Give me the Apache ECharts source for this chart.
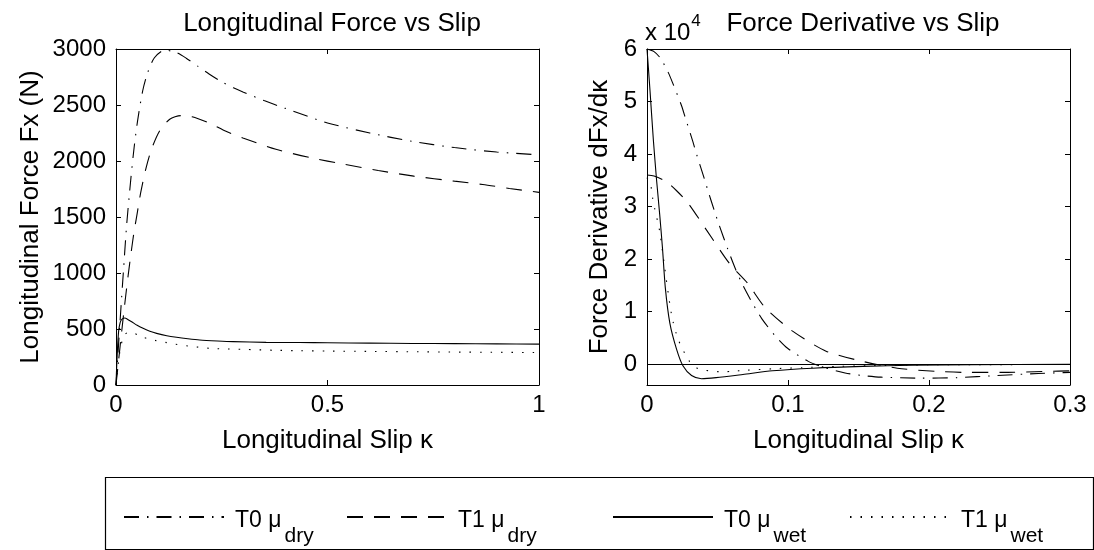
<!DOCTYPE html>
<html>
<head>
<meta charset="utf-8">
<script src="https://cdn.jsdelivr.net/npm/echarts@6.0.0/dist/echarts.min.js"></script>
<style>
  html, body { margin: 0; padding: 0; background: #fff; }
  #chart { width: 1094px; height: 550px; }
</style>
</head>
<body>
<div id="chart"></div>
<script>
// ---- left plot: longitudinal force (N) vs slip
const slipT0dry = [0, 0.005, 0.0097, 0.0134, 0.0181, 0.0252, 0.0351, 0.0429, 0.051, 0.063, 0.075, 0.0908, 0.1144, 0.1405, 0.166, 0.194, 0.22, 0.248, 0.2776, 0.3, 0.35, 0.4, 0.5, 0.6, 0.7, 0.8, 0.9, 1.0]
const forceT0dry = [0, 300, 577, 785, 1047, 1430, 1842, 2123, 2358, 2625, 2791, 2922, 2990, 2972, 2918, 2845, 2777, 2711, 2653, 2616, 2540, 2470, 2340, 2250, 2175, 2120, 2080, 2055]

const slipT1dry = [0, 0.006, 0.013, 0.02, 0.029, 0.036, 0.042, 0.05, 0.0586, 0.071, 0.084, 0.103, 0.127, 0.153, 0.18, 0.222, 0.26, 0.3, 0.378, 0.459, 0.541, 0.62, 0.704, 0.8, 0.867, 0.93, 1.0]
const forceT1dry = [0, 215, 462, 700, 987, 1190, 1351, 1530, 1722, 1937, 2106, 2268, 2373, 2405, 2395, 2336, 2265, 2205, 2105, 2030, 1970, 1915, 1865, 1820, 1790, 1755, 1720]

const slipT0wet = [0, 0.0016, 0.004, 0.0065, 0.01, 0.0134, 0.0175, 0.0212, 0.026, 0.037, 0.05, 0.064, 0.08, 0.096, 0.12, 0.143, 0.17, 0.198, 0.24, 0.277, 0.355, 0.434, 0.5, 0.6, 0.7, 0.8, 0.9, 1.0]
const forceT0wet = [0, 163, 360, 490, 560, 585, 596, 598, 590, 565, 533, 506, 480, 461, 440, 426, 413, 402, 393, 387, 381, 379, 377, 374, 371, 369, 367, 365]

const slipT1wet = [0, 0.003, 0.006, 0.01, 0.015, 0.02, 0.025, 0.031, 0.04, 0.05, 0.064, 0.09, 0.116, 0.14, 0.171, 0.2, 0.222, 0.26, 0.3, 0.378, 0.432, 0.5, 0.6, 0.7, 0.8, 0.9, 1.0]
const forceT1wet = [0, 110, 210, 320, 400, 445, 465, 472, 465, 450, 426, 400, 381, 364, 348, 336, 327, 322, 318, 310, 306, 303, 300, 297, 294, 292, 290]

// ---- right plot: dFx/dk (x 10^4) vs slip
const kT0dry = [0, 0.005, 0.0097, 0.0151, 0.0181, 0.0245, 0.0273, 0.0327, 0.0351, 0.041, 0.0429, 0.048, 0.051, 0.0574, 0.0629, 0.068, 0.075, 0.0815, 0.0908, 0.0997, 0.1144, 0.125, 0.1405, 0.1528, 0.166, 0.194, 0.22, 0.248, 0.2776, 0.3]
const dT0dry = [6.0, 5.95, 5.82, 5.55, 5.36, 4.92, 4.68, 4.22, 4.0, 3.5, 3.33, 2.9, 2.66, 2.18, 1.8, 1.5, 1.15, 0.86, 0.54, 0.3, 0.05, -0.06, -0.17, -0.22, -0.25, -0.27, -0.26, -0.22, -0.18, -0.16]

const kT1dry = [0, 0.005, 0.0134, 0.021, 0.029, 0.042, 0.0586, 0.071, 0.0839, 0.103, 0.127, 0.153, 0.1775, 0.2046, 0.227, 0.2517, 0.2846, 0.3]
const dT1dry = [3.6, 3.58, 3.48, 3.3, 3.07, 2.56, 1.91, 1.55, 1.07, 0.63, 0.245, 0.05, -0.08, -0.14, -0.16, -0.16, -0.14, -0.13]

const kT0wet = [0, 0.0021, 0.0045, 0.0068, 0.009, 0.011, 0.013, 0.0162, 0.021, 0.0256, 0.0316, 0.0386, 0.049, 0.068, 0.089, 0.1175, 0.153, 0.188, 0.23, 0.3]
const dT0wet = [6.0, 5.22, 4.27, 3.5, 2.85, 2.2, 1.45, 0.78, 0.28, -0.04, -0.22, -0.28, -0.26, -0.2, -0.13, -0.08, -0.045, -0.025, -0.012, -0.005]

const kT1wet = [0, 0.0026, 0.004, 0.0056, 0.0075, 0.0092, 0.0104, 0.0174, 0.0221, 0.0299, 0.0362, 0.0445, 0.0527, 0.06, 0.07, 0.09, 0.11, 0.13, 0.16, 0.2, 0.3]
const dT1wet = [3.55, 3.41, 3.16, 2.94, 2.72, 2.5, 2.26, 0.94, 0.47, 0.06, -0.09, -0.13, -0.15, -0.14, -0.12, -0.09, -0.07, -0.05, -0.03, -0.015, -0.01]

const names = ['T0 μ_dry', 'T1 μ_dry', 'T0 μ_wet', 'T1 μ_wet']
const xTicksLeft = [0, 1, 0.5]    // min, max, step
const yTicksLeft = [0, 3000, 500]
const xTicksRight = [0, 0.3, 0.1]
const yRangeRight = [-0.4, 6]

const FONT = 'Liberation Sans, Arial, Helvetica, sans-serif'
const dashes = [[15, 8, 1.5, 8], [16, 11], 'solid', [1.5, 9]]

function zip(xs, ys) {
  return xs.map((x, i) => [x, ys[i]])
}

function axis(grid, pos, range, opts) {
  const main = pos === 'bottom' || pos === 'left'
  const vertical = pos === 'left' || pos === 'right'
  return Object.assign({
    gridIndex: grid,
    type: 'value',
    position: pos,
    min: range[0],
    max: range[1],
    interval: range[2],
    axisLine: { show: true, onZero: false, lineStyle: { color: '#000', width: 1 } },
    axisTick: { show: true, inside: true, length: 5, lineStyle: { color: '#000' } },
    axisLabel: { show: main, color: '#000', fontSize: 24, fontFamily: FONT, margin: vertical ? 10 : 8,
      formatter: v => String(v) },
    splitLine: { show: false },
    nameTextStyle: { color: '#000', fontSize: 26, fontFamily: FONT }
  }, opts || {})
}

function line(name, data, xi, style) {
  return {
    name: name,
    type: 'line',
    xAxisIndex: xi,
    yAxisIndex: xi,
    data: data,
    symbol: 'none',
    smooth: 0.25,
    clip: true,
    lineStyle: { color: '#000', width: 1.1, type: style }
  }
}

const chart = echarts.init(document.getElementById('chart'))

const series = [
  line(names[0], zip(slipT0dry, forceT0dry), 0, dashes[0]),
  line(names[1], zip(slipT1dry, forceT1dry), 0, dashes[1]),
  line(names[2], zip(slipT0wet, forceT0wet), 0, dashes[2]),
  line(names[3], zip(slipT1wet, forceT1wet), 0, dashes[3]),
  line(names[0], zip(kT0dry, dT0dry), 2, dashes[0]),
  line(names[1], zip(kT1dry, dT1dry), 2, dashes[1]),
  line(names[2], zip(kT0wet, dT0wet), 2, dashes[2]),
  line(names[3], zip(kT1wet, dT1wet), 2, dashes[3])
]
// zero reference line on the derivative plot
series[6].markLine = {
  silent: true,
  symbol: ['none', 'none'],
  label: { show: false },
  lineStyle: { color: '#000', type: 'solid', width: 1 },
  data: [{ yAxis: 0 }]
}

const legendLeft = [123, 346, 612, 849]
const legends = names.map((n, i) => ({
  data: [n],
  left: legendLeft[i],
  top: 506,
  padding: 0,
  itemWidth: 100,
  itemHeight: 14,
  itemStyle: { opacity: 0 },
  selectedMode: false,
  formatter: function (s) {
    const p = s.split('_')
    return '{m|' + p[0] + '}{s|' + p[1] + '}'
  },
  textStyle: {
    color: '#000',
    fontFamily: FONT,
    rich: {
      m: { fontSize: 23, lineHeight: 22, padding: [3, 0, 0, 6], verticalAlign: 'top', fontFamily: FONT, color: '#000' },
      s: { fontSize: 21, lineHeight: 20, padding: [20, 0, 0, 3], verticalAlign: 'top', fontFamily: FONT, color: '#000' }
    }
  }
}))

chart.setOption({
  animation: false,
  backgroundColor: '#fff',
  title: [
    { text: 'Longitudinal Force vs Slip', left: 327, top: 6, textAlign: 'center',
      textStyle: { color: '#000', fontSize: 26, fontWeight: 'normal', fontFamily: FONT } },
    { text: 'Force Derivative vs Slip', left: 858, top: 6, textAlign: 'center',
      textStyle: { color: '#000', fontSize: 26, fontWeight: 'normal', fontFamily: FONT } }
  ],
  grid: [
    { left: 116, top: 49, width: 423, height: 336 },
    { left: 647, top: 49, width: 423, height: 336 }
  ],
  xAxis: [
    axis(0, 'bottom', xTicksLeft, { name: 'Longitudinal Slip κ', nameLocation: 'middle', nameGap: 43 }),
    axis(0, 'top', xTicksLeft),
    axis(1, 'bottom', xTicksRight, { name: 'Longitudinal Slip κ', nameLocation: 'middle', nameGap: 43 }),
    axis(1, 'top', xTicksRight)
  ],
  yAxis: [
    axis(0, 'left', yTicksLeft, { name: 'Longitudinal Force Fx (N)', nameLocation: 'middle', nameGap: 72 }),
    axis(0, 'right', yTicksLeft),
    axis(1, 'left', [yRangeRight[0], yRangeRight[1]], {
      splitNumber: 6, name: 'Force Derivative dFx/dκ', nameLocation: 'middle', nameGap: 34,
      axisLabel: { show: true, showMinLabel: false, color: '#000', fontSize: 24, fontFamily: FONT, margin: 10,
        formatter: v => (v < -0.01 ? '' : String(v)) }
    }),
    axis(1, 'right', [yRangeRight[0], yRangeRight[1]], { splitNumber: 6 })
  ],
  legend: legends,
  graphic: [
    { type: 'rect', left: 103, top: 475, shape: { width: 988, height: 72 },
      style: { fill: 'none', stroke: '#000', lineWidth: 1.2 }, silent: true },
    { type: 'text', left: 645, top: 13,
      style: { text: '{a|x 10}{b|4}', fill: '#000', fontFamily: FONT,
        rich: { a: { fontSize: 24, padding: [8, 0, 0, 0], verticalAlign: 'top', fontFamily: FONT },
                b: { fontSize: 17, verticalAlign: 'top', padding: [0, 0, 0, 1], fontFamily: FONT } } } }
  ],
  series: series
})
</script>
</body>
</html>
